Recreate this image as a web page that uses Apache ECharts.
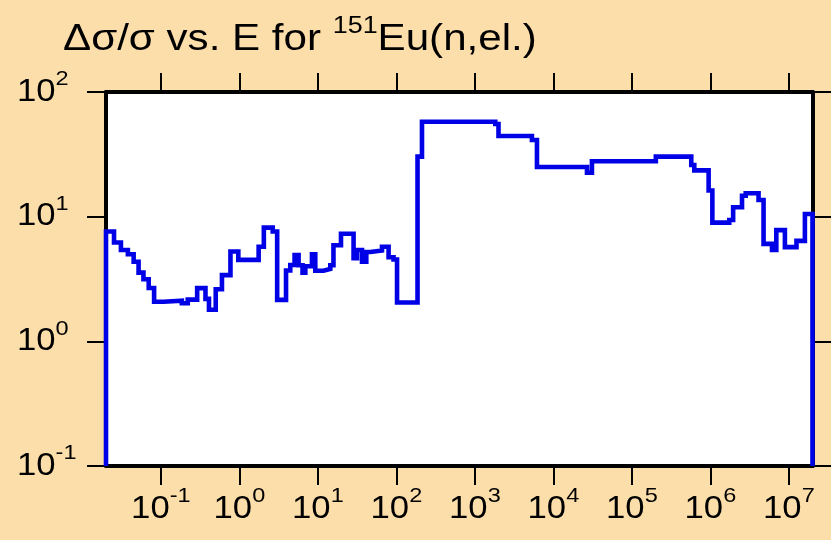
<!DOCTYPE html>
<html>
<head>
<meta charset="utf-8">
<script src="https://cdn.jsdelivr.net/npm/echarts@6/dist/echarts.min.js"></script>
<style>
  html, body { margin: 0; padding: 0; background: #FCDEAA; }
  #chart { width: 831px; height: 540px; }
</style>
</head>
<body>
<div id="chart"></div>
<script>
// Group boundaries in eV (n+1 edges) and relative uncertainty (%) per group (n values)
const energyEdges = [0.02, 0.0253, 0.031, 0.038, 0.045, 0.052, 0.06, 0.07, 0.082, 0.108,
  0.185, 0.22, 0.29, 0.37, 0.41, 0.5, 0.6, 0.77, 0.97, 1.76,
  2.05, 2.66, 3.03, 3.93, 4.45, 5.05, 5.68, 6.38, 6.92, 8.41,
  9.27, 11.8, 14.4, 15.8, 19.7, 28.5, 31.5, 36.5, 41.4, 46.6,
  65.6, 79.6, 92, 102, 186, 212, 1820, 2000, 5330, 6180,
  26800, 31000, 2.02e5, 5.71e5, 6.24e5, 9.5e5, 1.06e6, 1.74e6, 1.95e6, 2.53e6,
  2.82e6, 4.11e6, 4.76e6, 6.1e6, 6.92e6, 8.9e6, 1.25e7, 1.6e7, 2e7];
const relUncertainty = [7.6, 6.2, 5.4, 5.0, 4.35, 3.56, 3.15, 2.68, 2.08, 2.12,
  2.02, 2.16, 2.67, 2.19, 1.79, 2.62, 3.4, 5.25, 4.5, 5.74,
  8.17, 7.6, 2.15, 3.7, 4.1, 4.92, 4.08, 3.56, 4.0, 5.0,
  3.68, 3.8, 4.08, 5.9, 7.3, 4.64, 5.4, 4.35, 5.2, 5.35,
  5.74, 4.72, 4.53, 2.05, 30.3, 57.8, 55.4, 44.4, 41.2, 25,
  22.5, 27.8, 30.3, 26, 23.5, 16.2, 8.95, 9.4, 11.9, 14.7,
  15.4, 13.6, 6.05, 5.4, 7.8, 5.7, 6.4, 10.5];

// Axis ranges and decade tick exponents
const xRange = [0.02, 2e7];
const yRange = [0.1, 100];
const xTickExps = [-1, 0, 1, 2, 3, 4, 5, 6, 7];
const yTickExps = [-1, 0, 1, 2];

const titleMain = 'Δσ/σ vs. E for ';
const titleSup = '151';
const titleTail = 'Eu(n,el.)';

const FONT = '"Liberation Sans", Arial, Helvetica, sans-serif';
const LABEL_STRETCH = 1.12;   // horizontal stretch of tick lettering
const TITLE_STRETCH = 1.17;   // horizontal stretch of the title
const LINE = '#0000E6';
const BG = '#FCDEAA';

// Histogram outline: rise from the bottom at the first edge, drop back at the last
const stepData = [[energyEdges[0], yRange[0]]];
relUncertainty.forEach((v, i) => stepData.push([energyEdges[i], v]));
stepData.push([energyEdges[energyEdges.length - 1], relUncertainty[relUncertainty.length - 1]]);
stepData.push([energyEdges[energyEdges.length - 1], yRange[0]]);

const xTicks = xTickExps.map(e => Math.pow(10, e));
const yTicks = yTickExps.map(e => Math.pow(10, e));

const frameLine = { show: true, onZero: false, lineStyle: { color: '#000', width: 4 } };
const tickStyle = (vals) => ({ show: true, inside: false, length: 19, customValues: vals,
  lineStyle: { color: '#000', width: 2 } });

const chart = echarts.init(document.getElementById('chart'), null, { renderer: 'canvas' });

const option = {
  animation: false,
  backgroundColor: BG,
  grid: { left: 106, right: 18.5, top: 92, bottom: 74, show: true,
    backgroundColor: '#fff', borderWidth: 0 },
  xAxis: [
    { type: 'log', logBase: 10, position: 'bottom', min: xRange[0], max: xRange[1],
      axisLine: frameLine, axisTick: tickStyle(xTicks), axisLabel: { show: false },
      splitLine: { show: false }, minorTick: { show: false } },
    { type: 'log', logBase: 10, position: 'top', min: xRange[0], max: xRange[1],
      axisLine: frameLine, axisTick: tickStyle(xTicks), axisLabel: { show: false },
      splitLine: { show: false } }
  ],
  yAxis: [
    { type: 'log', logBase: 10, position: 'left', min: yRange[0], max: yRange[1],
      axisLine: frameLine, axisTick: tickStyle(yTicks), axisLabel: { show: false },
      splitLine: { show: false } },
    { type: 'log', logBase: 10, position: 'right', min: yRange[0], max: yRange[1],
      axisLine: frameLine, axisTick: tickStyle(yTicks), axisLabel: { show: false },
      splitLine: { show: false } }
  ],
  series: [{
    type: 'line',
    step: 'end',
    data: stepData,
    xAxisIndex: 0,
    yAxisIndex: 0,
    showSymbol: false,
    symbol: 'none',
    clip: true,
    lineStyle: { color: LINE, width: 4.6, join: 'miter', cap: 'butt' },
    z: 1
  }]
};
chart.setOption(option);

// "10" with a raised exponent
const powerRich = {
  b: { fontSize: 31, fontFamily: FONT, lineHeight: 46, fill: '#000' },
  e: { fontSize: 21, fontFamily: FONT, verticalAlign: 'top', fill: '#000' }
};
function powerLabel(exp, x, y, align) {
  return {
    type: 'text', x: x, y: y, scaleX: LABEL_STRETCH, silent: true,
    style: { text: '{b|10}{e|' + exp + '}', rich: powerRich,
      textAlign: align, textVerticalAlign: 'middle' }
  };
}

const graphics = [];
xTickExps.forEach((e, i) => {
  const px = chart.convertToPixel({ xAxisIndex: 0 }, xTicks[i]);
  graphics.push(powerLabel(e, px, 509, 'center'));
});
yTickExps.forEach((e, i) => {
  const py = chart.convertToPixel({ yAxisIndex: 0 }, yTicks[i]);
  graphics.push(powerLabel(e, 17, py, 'left'));
});

// Title with superscript mass number
graphics.push({
  type: 'text', x: 63, y: 40, scaleX: TITLE_STRETCH, silent: true,
  style: {
    text: '{m|' + titleMain + '}{s|' + titleSup + '}{m|' + titleTail + '}',
    textAlign: 'left', textVerticalAlign: 'middle',
    rich: {
      m: { fontSize: 36, fontFamily: FONT, lineHeight: 50, fill: '#000' },
      s: { fontSize: 23, fontFamily: FONT, verticalAlign: 'top', fill: '#000' }
    }
  }
});

chart.setOption({ graphic: graphics });
</script>
</body>
</html>
